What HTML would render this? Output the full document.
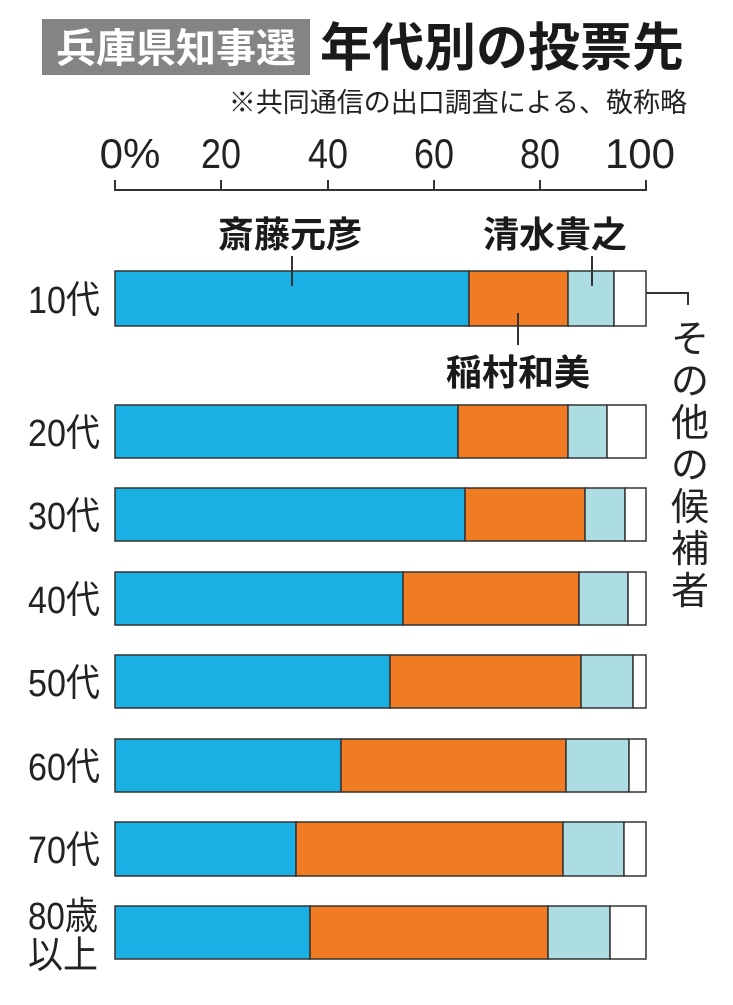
<!DOCTYPE html>
<html><head><meta charset="utf-8"><style>
body{margin:0;background:#fff;}
svg text{font-family:"Liberation Sans","Noto Sans CJK JP",sans-serif;}
</style></head><body>
<svg width="733" height="1000" viewBox="0 0 733 1000" xmlns="http://www.w3.org/2000/svg">
<rect x="42" y="19" width="268" height="56" fill="#848484"/>
<text x="176" y="62" font-size="40" font-weight="bold" fill="#fff" text-anchor="middle">兵庫県知事選</text>
<text x="320" y="66" font-size="52" font-weight="bold" fill="#1a1a1a">年代別の投票先</text>
<text x="687" y="112" font-size="27" fill="#222" text-anchor="end">※共同通信の出口調査による、敬称略</text>
<g font-size="42" fill="#222" text-anchor="middle">
<text x="130" y="168">0%</text><text x="221" y="168" textLength="40" lengthAdjust="spacingAndGlyphs">20</text><text x="328" y="168" textLength="40" lengthAdjust="spacingAndGlyphs">40</text><text x="434" y="168" textLength="40" lengthAdjust="spacingAndGlyphs">60</text><text x="540" y="168" textLength="40" lengthAdjust="spacingAndGlyphs">80</text><text x="640" y="168">100</text>
</g>
<g stroke="#333" stroke-width="2" fill="none">
<path d="M115 180V190H646V180M221 180V190M328 180V190M434 180V190M540 180V190"/>
</g>
<g font-size="36" font-weight="bold" fill="#1a1a1a" text-anchor="middle">
<text x="290" y="247">斎藤元彦</text><text x="555" y="247">清水貴之</text><text x="518" y="385">稲村和美</text>
</g>
<g stroke="#333" stroke-width="1.5">
<rect x="115" y="271" width="354" height="55" fill="#1ab0e4"/><rect x="469" y="271" width="99" height="55" fill="#f07b22"/><rect x="568" y="271" width="46" height="55" fill="#acdde3"/><rect x="614" y="271" width="32" height="55" fill="#fff"/>
<rect x="115" y="405" width="343" height="53" fill="#1ab0e4"/><rect x="458" y="405" width="110" height="53" fill="#f07b22"/><rect x="568" y="405" width="39" height="53" fill="#acdde3"/><rect x="607" y="405" width="39" height="53" fill="#fff"/>
<rect x="115" y="488" width="350" height="53" fill="#1ab0e4"/><rect x="465" y="488" width="120" height="53" fill="#f07b22"/><rect x="585" y="488" width="40" height="53" fill="#acdde3"/><rect x="625" y="488" width="21" height="53" fill="#fff"/>
<rect x="115" y="572" width="288" height="53" fill="#1ab0e4"/><rect x="403" y="572" width="176" height="53" fill="#f07b22"/><rect x="579" y="572" width="49" height="53" fill="#acdde3"/><rect x="628" y="572" width="18" height="53" fill="#fff"/>
<rect x="115" y="655" width="275" height="53" fill="#1ab0e4"/><rect x="390" y="655" width="191" height="53" fill="#f07b22"/><rect x="581" y="655" width="52" height="53" fill="#acdde3"/><rect x="633" y="655" width="13" height="53" fill="#fff"/>
<rect x="115" y="739" width="226" height="53" fill="#1ab0e4"/><rect x="341" y="739" width="225" height="53" fill="#f07b22"/><rect x="566" y="739" width="63" height="53" fill="#acdde3"/><rect x="629" y="739" width="17" height="53" fill="#fff"/>
<rect x="115" y="822" width="181" height="54" fill="#1ab0e4"/><rect x="296" y="822" width="267" height="54" fill="#f07b22"/><rect x="563" y="822" width="61" height="54" fill="#acdde3"/><rect x="624" y="822" width="22" height="54" fill="#fff"/>
<rect x="115" y="906" width="195" height="53" fill="#1ab0e4"/><rect x="310" y="906" width="238" height="53" fill="#f07b22"/><rect x="548" y="906" width="62" height="53" fill="#acdde3"/><rect x="610" y="906" width="36" height="53" fill="#fff"/>
</g>
<g stroke="#333" stroke-width="2" fill="none">
<path d="M292 256V286M592 256V286M518 313V345M646 293H688V305"/>
</g>
<g font-size="38" fill="#222" text-anchor="middle">
<text x="690" y="352">そ</text><text x="690" y="394">の</text><text x="690" y="436">他</text><text x="690" y="478">の</text><text x="690" y="520">候</text><text x="690" y="562">補</text><text x="690" y="604">者</text>
</g>
<g font-size="38" fill="#222">
<text x="28" y="313" textLength="72" lengthAdjust="spacingAndGlyphs">10代</text><text x="28" y="446" textLength="72" lengthAdjust="spacingAndGlyphs">20代</text><text x="28" y="529" textLength="72" lengthAdjust="spacingAndGlyphs">30代</text><text x="28" y="613" textLength="72" lengthAdjust="spacingAndGlyphs">40代</text><text x="28" y="696" textLength="72" lengthAdjust="spacingAndGlyphs">50代</text><text x="28" y="780" textLength="72" lengthAdjust="spacingAndGlyphs">60代</text><text x="28" y="863" textLength="72" lengthAdjust="spacingAndGlyphs">70代</text><text x="28" y="929" textLength="70" lengthAdjust="spacingAndGlyphs">80歳</text><text x="28" y="968" textLength="70" lengthAdjust="spacingAndGlyphs">以上</text>
</g>
</svg>
</body></html>
